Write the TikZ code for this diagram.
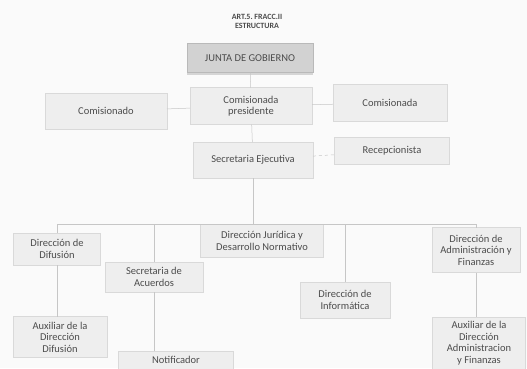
\documentclass[tikz,border=0pt]{standalone}
\usepackage{fontspec}
\setmainfont{Carlito}
\usetikzlibrary{shadows}
\frenchspacing

\begin{document}
\begin{tikzpicture}[x=1pt,y=-1pt,
  every node/.style={align=center, inner sep=1pt, outer sep=0pt, text=gray!60!black,
    font=\fontsize{10.5}{11.5}\selectfont},
  puesto/.style={draw=gray!30, fill=gray!13},
  junta/.style={draw=gray!55, fill=gray!35, drop shadow={shadow xshift=0pt, shadow yshift=-2pt, fill=gray!60}},
  enlace/.style={draw=gray!45, line width=0.5pt}]
\fill[gray!4] (0,0) rectangle (527,368);
\useasboundingbox (0,0) rectangle (527,368);

\node[font=\bfseries\fontsize{8}{9}\selectfont] (titulo) at (257,21) {ART.5. FRACC.II\\ESTRUCTURA};
\node[junta, minimum width=126pt, minimum height=29pt] (junta) at (250,58) {JUNTA DE GOBIERNO};

\node[puesto, minimum width=122pt, minimum height=36pt] (comisionado) at (106,111) {Comisionado};
\node[puesto, minimum width=122pt, minimum height=37pt] (presidenta) at (251,106) {Comisionada\\presidente};
\node[puesto, minimum width=114pt, minimum height=37pt] (comisionada) at (390,103) {Comisionada};
\node[puesto, minimum width=120pt, minimum height=36pt] (secejec) at (253,160) {Secretaria Ejecutiva};
\node[puesto, minimum width=115pt, minimum height=27pt] (recep) at (392,151) {Recepcionista};

\node[puesto, minimum width=87pt, minimum height=32pt] (difusion) at (57,249) {Dirección de\\Difusión};
\node[puesto, minimum width=123pt, minimum height=33pt] (juridica) at (262,241) {Dirección Jurídica y\\Desarrollo Normativo};
\node[puesto, minimum width=88pt, minimum height=45pt] (admin) at (476,250) {Dirección de\\Administración y\\Finanzas};
\node[puesto, minimum width=98pt, minimum height=30pt] (acuerdos) at (154,277) {Secretaria de\\Acuerdos};
\node[puesto, minimum width=90pt, minimum height=36pt] (informatica) at (345,300) {Dirección de\\Informática};

\node[puesto, minimum width=94pt, minimum height=41pt] (auxdif) at (60,337) {Auxiliar de la\\Dirección\\Difusión};
\node[puesto, minimum width=115pt, minimum height=18pt] (notificador) at (176,360) {Notificador};
\node[puesto, minimum width=93pt, minimum height=52pt] (auxadmin) at (479,343) {Auxiliar de la\\Dirección\\Administracion\\y Finanzas};

\draw[enlace] (junta) -- (presidenta);
\draw[enlace] (comisionado) -- (presidenta);
\draw[enlace] (presidenta) -- (comisionada);
\draw[enlace] (presidenta) -- (secejec);
\draw[enlace, dashed] (secejec) -- (recep);

\draw[enlace] (secejec.south) -- ++(0,46) coordinate (bus);
\draw[enlace] (difusion.north) -- (difusion.north |- bus) -- (bus -| admin.north) -- (admin.north);
\draw[enlace] (bus -| acuerdos.north) -- (acuerdos.north);
\draw[enlace] (bus -| juridica.north) -- (juridica.north);
\draw[enlace] (bus -| informatica.north) -- (informatica.north);

\draw[enlace] (difusion.south) -- (difusion.south |- auxdif.north);
\draw[enlace] (acuerdos.south) -- (acuerdos.south |- notificador.north);
\draw[enlace] (admin.south) -- (admin.south |- auxadmin.north);
\end{tikzpicture}
\end{document}
